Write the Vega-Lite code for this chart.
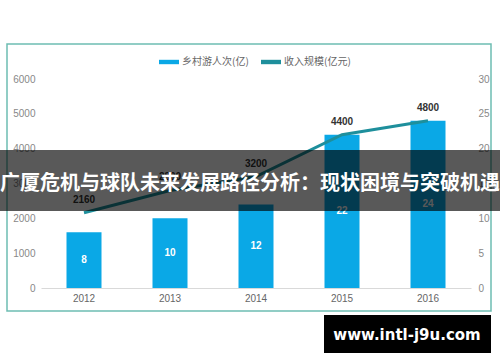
{
  "$schema": "https://vega.github.io/schema/vega-lite/v6.json",
  "width": 430,
  "height": 209,
  "autosize": {"type": "none"},
  "padding": {"left": 41, "top": 79, "right": 29, "bottom": 74},
  "background": "white",
  "config": {"view": {"stroke": null}, "font": "Noto Sans CJK SC"},
  "data": {"values": [
    {"year": "2012", "visits": 8, "revenue": 2160},
    {"year": "2013", "visits": 10, "revenue": 2800},
    {"year": "2014", "visits": 12, "revenue": 3200},
    {"year": "2015", "visits": 22, "revenue": 4400},
    {"year": "2016", "visits": 24, "revenue": 4800}
  ]},
  "resolve": {"scale": {"y": "independent"}},
  "layer": [
    {
      "data": {"values": [{}]},
      "mark": {"type": "rect", "x": -34, "x2": 450, "y": -35, "y2": 232, "fill": null, "stroke": "#6dbdb2", "strokeWidth": 1.5},
      "encoding": {}
    },
    {
      "mark": {"type": "bar"},
      "encoding": {
        "x": {"field": "year", "type": "ordinal",
          "scale": {"paddingInner": 0.593, "paddingOuter": 0.2965},
          "axis": {"title": null, "labelAngle": 0, "ticks": false, "domainColor": "#d9d9d9", "labelColor": "#666", "labelFontSize": 10, "labelPadding": 5, "labelFont": "Liberation Sans"}},
        "y": {"field": "visits", "type": "quantitative",
          "scale": {"domain": [0, 30]},
          "axis": {"orient": "right", "title": null, "values": [0, 5, 10, 15, 20, 25, 30], "format": "d", "ticks": false, "domain": false, "grid": false, "labelColor": "#888", "labelFontSize": 10, "labelPadding": 7, "labelFont": "Liberation Sans"}},
        "color": {"datum": "乡村游人次(亿)", "type": "nominal",
          "scale": {"domain": ["乡村游人次(亿)", "收入规模(亿元)"], "range": ["#0aa8e6", "#1e8f9c"]},
          "legend": {"title": null, "orient": "none", "legendX": 118, "legendY": -27, "direction": "horizontal",
            "symbolType": "M-1,-0.22H1V0.22H-1Z", "symbolSize": 400, "labelFontSize": 10, "labelColor": "#666",
            "columnPadding": 12, "labelOffset": 3,
            "encode": {"symbols": {"update": {"fill": {"scale": "color", "field": "value"}, "strokeWidth": {"value": 0}, "opacity": {"value": 1}}}}}}
      }
    },
    {
      "mark": {"type": "text", "color": "white", "fontSize": 10, "fontWeight": "bold", "baseline": "middle", "font": "Liberation Sans"},
      "encoding": {
        "x": {"field": "year", "type": "ordinal"},
        "y": {"field": "visits", "type": "quantitative", "scale": {"domain": [0, 60]}, "axis": null},
        "text": {"field": "visits"}
      }
    },
    {
      "mark": {"type": "line", "strokeWidth": 3},
      "encoding": {
        "x": {"field": "year", "type": "ordinal"},
        "y": {"field": "revenue", "type": "quantitative",
          "scale": {"domain": [0, 6000]},
          "axis": {"orient": "left", "title": null, "values": [0, 1000, 2000, 3000, 4000, 5000, 6000], "format": "d", "ticks": false, "domain": false, "grid": false, "labelColor": "#888", "labelFontSize": 10, "labelPadding": 6, "labelFont": "Liberation Sans"}},
        "color": {"datum": "收入规模(亿元)", "type": "nominal"}
      }
    },
    {
      "mark": {"type": "text", "color": "#333", "fontSize": 10, "fontWeight": "bold", "dy": -13, "font": "Liberation Sans"},
      "encoding": {
        "x": {"field": "year", "type": "ordinal"},
        "y": {"field": "revenue", "type": "quantitative", "scale": {"domain": [0, 6000]}, "axis": null},
        "text": {"field": "revenue"}
      }
    },
    {
      "data": {"values": [{}]},
      "mark": {"type": "rect", "x": -41, "x2": 459, "y": 71, "y2": 132, "fill": "black", "opacity": 0.65},
      "encoding": {}
    },
    {
      "data": {"values": [{"t": "广厦危机与球队未来发展路径分析：现状困境与突破机遇"}]},
      "mark": {"type": "text", "x": 209, "y": 105, "align": "center", "baseline": "middle", "fontSize": 20, "fontWeight": "bold", "color": "white", "font": "Noto Sans CJK SC"},
      "encoding": {"text": {"field": "t"}}
    },
    {
      "data": {"values": [{}]},
      "mark": {"type": "rect", "x": 283, "x2": 450, "y": 236, "y2": 274, "fill": "black"},
      "encoding": {}
    },
    {
      "data": {"values": [{"t": "www.intl-j9u.com"}]},
      "mark": {"type": "text", "x": 366, "y": 256, "align": "center", "baseline": "middle", "fontSize": 15, "fontWeight": "bold", "color": "white", "font": "DejaVu Sans"},
      "encoding": {"text": {"field": "t"}}
    }
  ]
}
